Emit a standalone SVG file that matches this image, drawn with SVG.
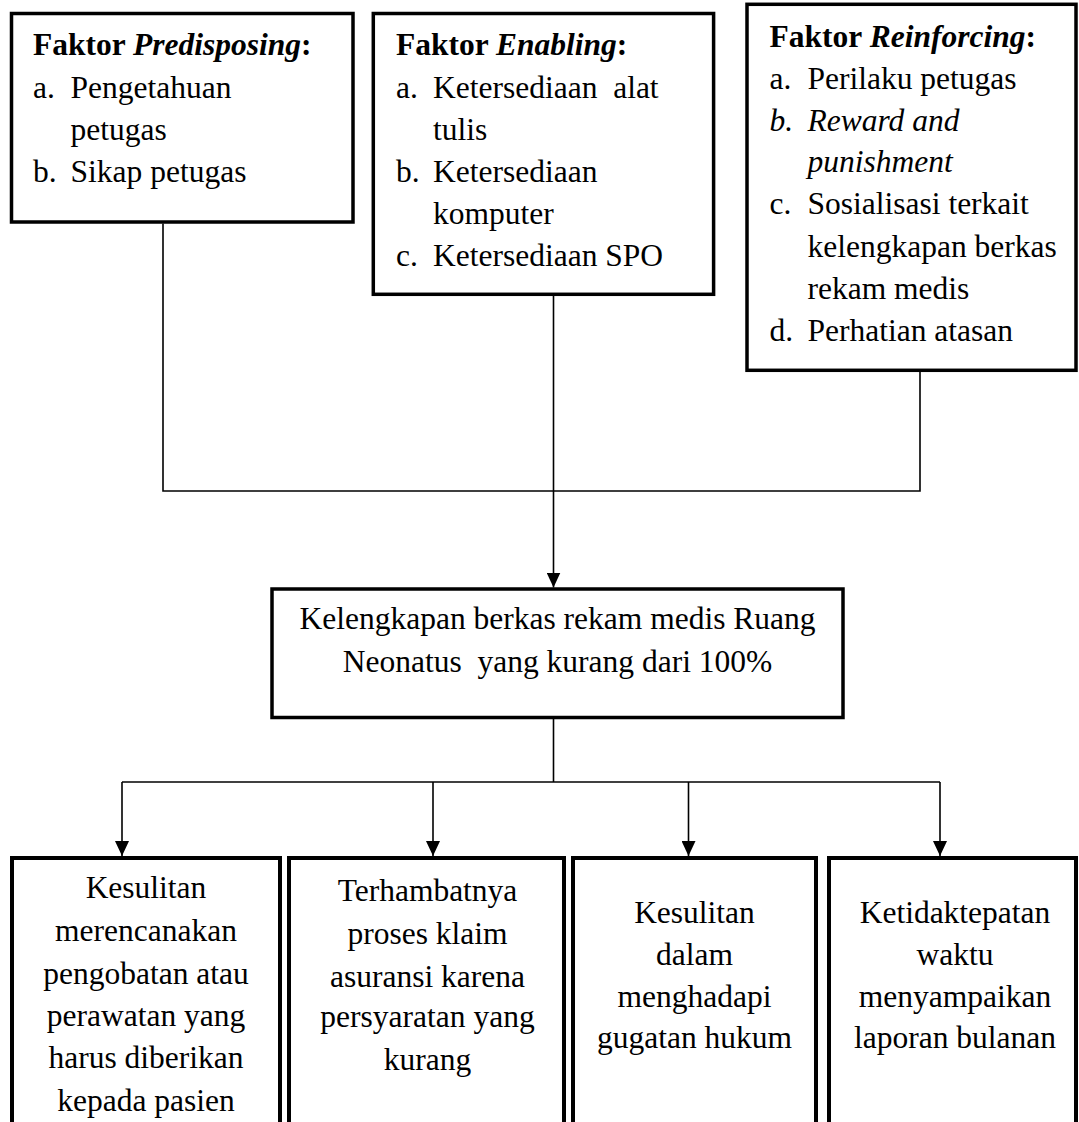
<svg xmlns="http://www.w3.org/2000/svg" width="1079" height="1122" viewBox="0 0 1079 1122">
<style>
.box{fill:#fff;stroke:#000;stroke-width:3.5}
.boxb{fill:#fff;stroke:#000;stroke-width:4}
.t{font-family:'Liberation Serif',Tinos,'Times New Roman',Times,'Nimbus Roman','DejaVu Serif',serif;font-size:31.5px;fill:#000}
.c{text-anchor:middle}
.b{font-weight:bold}
.i{font-style:italic}
.ln{fill:none;stroke:#000;stroke-width:1.6}
</style>
<defs>
<marker id="arr" markerUnits="userSpaceOnUse" markerWidth="15" markerHeight="14" viewBox="0 0 15 14" refX="15" refY="7" orient="auto">
<path d="M0,0 L15,7 L0,14 Z" fill="#000"/>
</marker>
</defs>

<g id="connectors">
<path class="ln" d="M163,223.5 V491 H920 V372"/>
<path class="ln" d="M553.5,295.5 V491"/>
<path class="ln" d="M553.5,491 V587.5" marker-end="url(#arr)"/>
<path class="ln" d="M553.5,719 V782"/>
<path class="ln" d="M122,782 H940"/>
<path class="ln" d="M122,782 V856" marker-end="url(#arr)"/>
<path class="ln" d="M433,782 V856" marker-end="url(#arr)"/>
<path class="ln" d="M688.5,782 V856" marker-end="url(#arr)"/>
<path class="ln" d="M940,782 V856" marker-end="url(#arr)"/>
</g>

<g font-family="Liberation Serif, Tinos, Times New Roman, serif">
<g id="predisposing">
<rect class="box" x="11.5" y="13.5" width="341.5" height="208.5"/>
<text class="t" x="33" y="55"><tspan class="b">Faktor </tspan><tspan class="b i">Predisposing</tspan><tspan class="b">:</tspan></text>
<text class="t" x="33" y="97.5">a.</text>
<text class="t" x="70.6" y="97.5">Pengetahuan</text>
<text class="t" x="70.6" y="139.5">petugas</text>
<text class="t" x="33" y="182">b.</text>
<text class="t" x="70.6" y="182">Sikap petugas</text>
</g>

<g id="enabling">
<rect class="box" x="373.3" y="13.5" width="340.3" height="280.8"/>
<text class="t" x="396" y="55"><tspan class="b">Faktor </tspan><tspan class="b i">Enabling</tspan><tspan class="b">:</tspan></text>
<text class="t" x="396" y="97.5">a.</text>
<text class="t" x="433" y="97.5" xml:space="preserve">Ketersediaan  alat</text>
<text class="t" x="433" y="139.5">tulis</text>
<text class="t" x="396" y="182">b.</text>
<text class="t" x="433" y="182">Ketersediaan</text>
<text class="t" x="433" y="224">komputer</text>
<text class="t" x="396" y="265.5">c.</text>
<text class="t" x="433" y="265.5">Ketersediaan SPO</text>
</g>

<g id="reinforcing">
<rect class="box" x="747" y="4.3" width="329" height="366"/>
<text class="t" x="769.6" y="47"><tspan class="b">Faktor </tspan><tspan class="b i">Reinforcing</tspan><tspan class="b">:</tspan></text>
<text class="t" x="769.6" y="88.5">a.</text>
<text class="t" x="807.5" y="88.5">Perilaku petugas</text>
<text class="t i" x="769.6" y="130.5">b.</text>
<text class="t i" x="807.5" y="130.5">Reward and</text>
<text class="t i" x="807.5" y="171.5">punishment</text>
<text class="t" x="769.6" y="213.5">c.</text>
<text class="t" x="807.5" y="213.5">Sosialisasi terkait</text>
<text class="t" x="807.5" y="256.5">kelengkapan berkas</text>
<text class="t" x="807.5" y="298.5">rekam medis</text>
<text class="t" x="769.6" y="341">d.</text>
<text class="t" x="807.5" y="341">Perhatian atasan</text>
</g>

<g id="kelengkapan">
<rect class="box" x="272" y="589" width="571" height="128.5"/>
<text class="t c" x="557.5" y="629">Kelengkapan berkas rekam medis Ruang</text>
<text class="t c" x="557.5" y="671.5" xml:space="preserve">Neonatus  yang kurang dari 100%</text>
</g>

<g id="dampak1">
<rect class="boxb" x="12" y="858" width="268" height="300"/>
<text class="t c" x="146" y="898.3">Kesulitan</text>
<text class="t c" x="146" y="941">merencanakan</text>
<text class="t c" x="146" y="983.5">pengobatan atau</text>
<text class="t c" x="146" y="1026">perawatan yang</text>
<text class="t c" x="146" y="1068.3">harus diberikan</text>
<text class="t c" x="146" y="1110.5">kepada pasien</text>
</g>

<g id="dampak2">
<rect class="boxb" x="289" y="858" width="275" height="300"/>
<text class="t c" x="427.5" y="901">Terhambatnya</text>
<text class="t c" x="427.5" y="944">proses klaim</text>
<text class="t c" x="427.5" y="986.5">asuransi karena</text>
<text class="t c" x="427.5" y="1027">persyaratan yang</text>
<text class="t c" x="427.5" y="1070">kurang</text>
</g>

<g id="dampak3">
<rect class="boxb" x="573" y="858" width="243" height="300"/>
<text class="t c" x="694.5" y="922.7">Kesulitan</text>
<text class="t c" x="694.5" y="965">dalam</text>
<text class="t c" x="694.5" y="1006.7">menghadapi</text>
<text class="t c" x="694.5" y="1048.3">gugatan hukum</text>
</g>

<g id="dampak4">
<rect class="boxb" x="829" y="858" width="247" height="300"/>
<text class="t c" x="955" y="922.7">Ketidaktepatan</text>
<text class="t c" x="955" y="965">waktu</text>
<text class="t c" x="955" y="1006.7">menyampaikan</text>
<text class="t c" x="955" y="1048.3">laporan bulanan</text>
</g>
</g>
</svg>
